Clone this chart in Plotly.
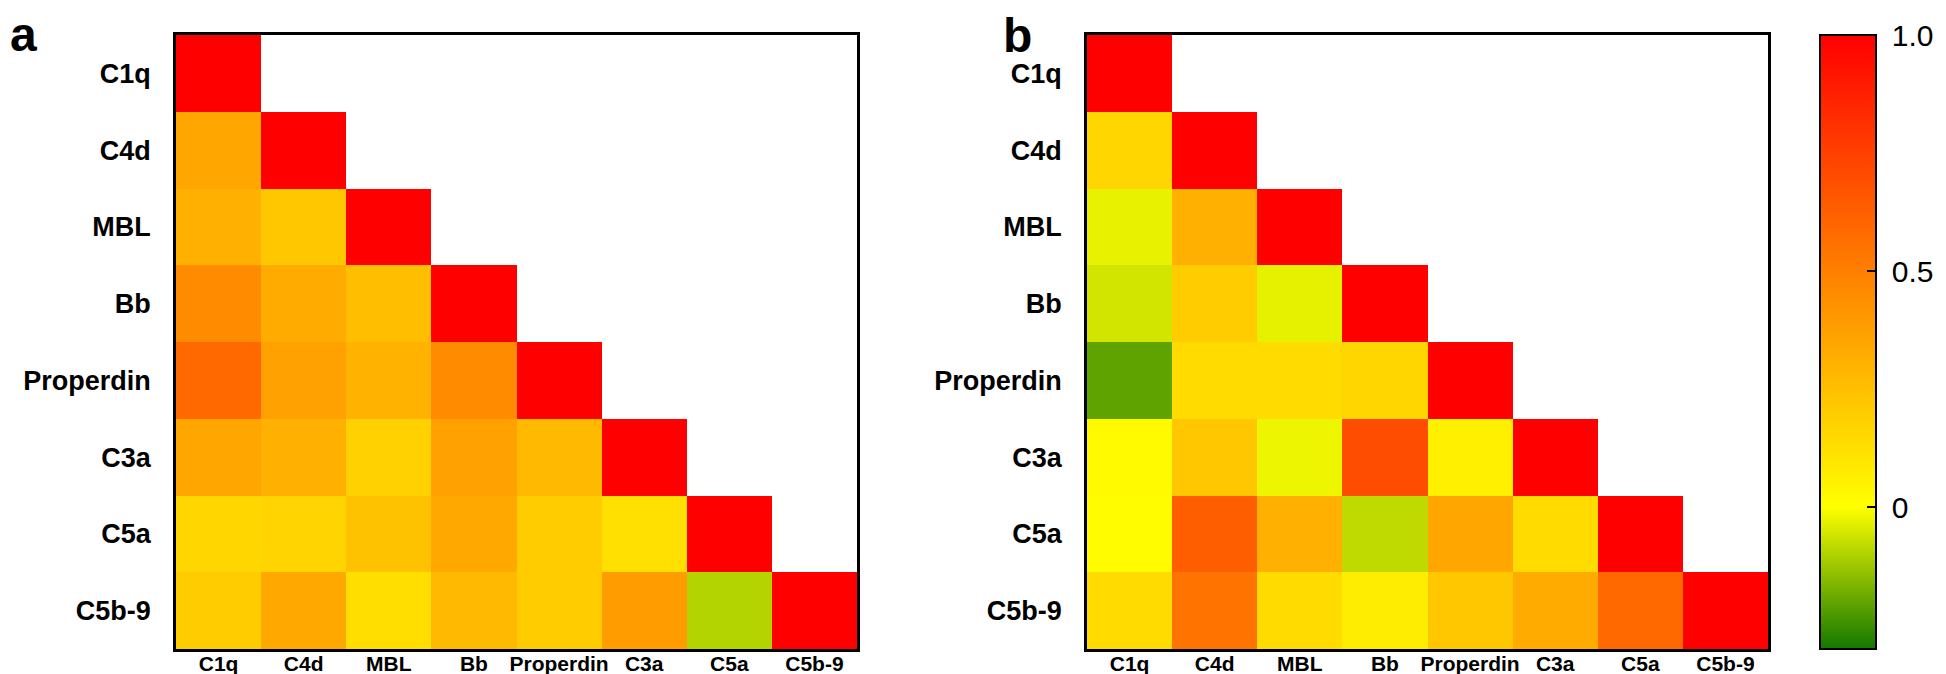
import plotly.graph_objects as go

labels = ["C1q", "C4d", "MBL", "Bb", "Properdin", "C3a", "C5a", "C5b-9"]

# Lower-triangular correlation values (row = y label, column = x label); None = blank
corr_a = [
    [1.00, None, None, None, None, None, None, None],
    [0.35, 1.00, None, None, None, None, None, None],
    [0.31, 0.22, 1.00, None, None, None, None, None],
    [0.45, 0.33, 0.25, 1.00, None, None, None, None],
    [0.59, 0.37, 0.30, 0.45, 1.00, None, None, None],
    [0.35, 0.31, 0.18, 0.37, 0.27, 1.00, None, None],
    [0.16, 0.17, 0.24, 0.34, 0.20, 0.12, 1.00, None],
    [0.20, 0.34, 0.13, 0.27, 0.20, 0.39, -0.096, 1.00],
]

corr_b = [
    [1.00, None, None, None, None, None, None, None],
    [0.16, 1.00, None, None, None, None, None, None],
    [-0.03, 0.31, 1.00, None, None, None, None, None],
    [-0.057, 0.20, -0.032, 1.00, None, None, None, None],
    [-0.204, 0.14, 0.14, 0.16, 1.00, None, None, None],
    [0.02, 0.22, -0.022, 0.70, 0.06, 1.00, None, None],
    [0.01, 0.63, 0.31, -0.083, 0.35, 0.14, 1.00, None],
    [0.14, 0.55, 0.14, 0.07, 0.22, 0.33, 0.59, 1.00],
]

cbar_ticks = [0, 0.5, 1.0]
cbar_text = ["0", "0.5", "1.0"]
cmin, cmax = -0.3, 1.0

FONT = "Arial, Liberation Sans, Helvetica, sans-serif"
W, H = 1946, 674
NB = "\u00a0"

fig = go.Figure()
fig.add_trace(go.Heatmap(z=corr_a, x=labels, y=labels, coloraxis="coloraxis",
                         xaxis="x", yaxis="y", hoverongaps=False))
fig.add_trace(go.Heatmap(z=corr_b, x=labels, y=labels, coloraxis="coloraxis",
                         xaxis="x2", yaxis="y2", hoverongaps=False))

yel = (0 - cmin) / (cmax - cmin)
xfont = dict(family=FONT, size=21, color="black", weight="bold")
yfont = dict(family=FONT, size=27, color="black", weight="bold")
axis_common = dict(showline=True, linecolor="black", linewidth=2.5, mirror=True,
                   showgrid=False, zeroline=False, ticks="")

y0, y1 = 1 - 641 / H, 1 - 27 / H
fig.update_layout(
    width=W, height=H,
    margin=dict(l=0, r=0, t=0, b=0),
    paper_bgcolor="white", plot_bgcolor="white",
    font=dict(family=FONT, color="black"),
    coloraxis=dict(
        cmin=cmin, cmax=cmax,
        colorscale=[[0, "rgb(20,120,0)"], [yel, "rgb(255,255,0)"], [1, "rgb(255,0,0)"]],
        colorbar=dict(
            x=1812 / W, xanchor="left", y=y1, yanchor="top",
            len=(641 - 27) / H, lenmode="fraction",
            thickness=56, thicknessmode="pixels",
            outlinecolor="black", outlinewidth=2,
            xpad=0, ypad=0,
            tickvals=cbar_ticks, ticktext=[NB + t for t in cbar_text],
            ticks="inside", ticklen=10, tickcolor="black", tickwidth=2,
            tickfont=dict(family=FONT, size=30, color="black"),
        ),
    ),
    xaxis=dict(domain=[168 / W, 849 / W], anchor="y", ticklabelstandoff=-6, tickfont=xfont, **axis_common),
    yaxis=dict(domain=[y0, y1], anchor="x", autorange="reversed", ticklabelstandoff=17, tickfont=yfont, **axis_common),
    xaxis2=dict(domain=[1079 / W, 1760 / W], anchor="y2", ticklabelstandoff=-6, tickfont=xfont, **axis_common),
    yaxis2=dict(domain=[y0, y1], anchor="x2", autorange="reversed", ticklabelstandoff=17, tickfont=yfont, **axis_common),
    annotations=[
        dict(text="<b>a</b>", x=0, y=1 - 27 / H, xref="paper", yref="paper",
             xanchor="left", yanchor="middle", showarrow=False,
             font=dict(family=FONT, size=48, color="black")),
        dict(text="<b>b</b>", x=993 / W, y=1 - 28 / H, xref="paper", yref="paper",
             xanchor="left", yanchor="middle", showarrow=False,
             font=dict(family=FONT, size=48, color="black")),
    ],
)

fig.write_html("out.html")
